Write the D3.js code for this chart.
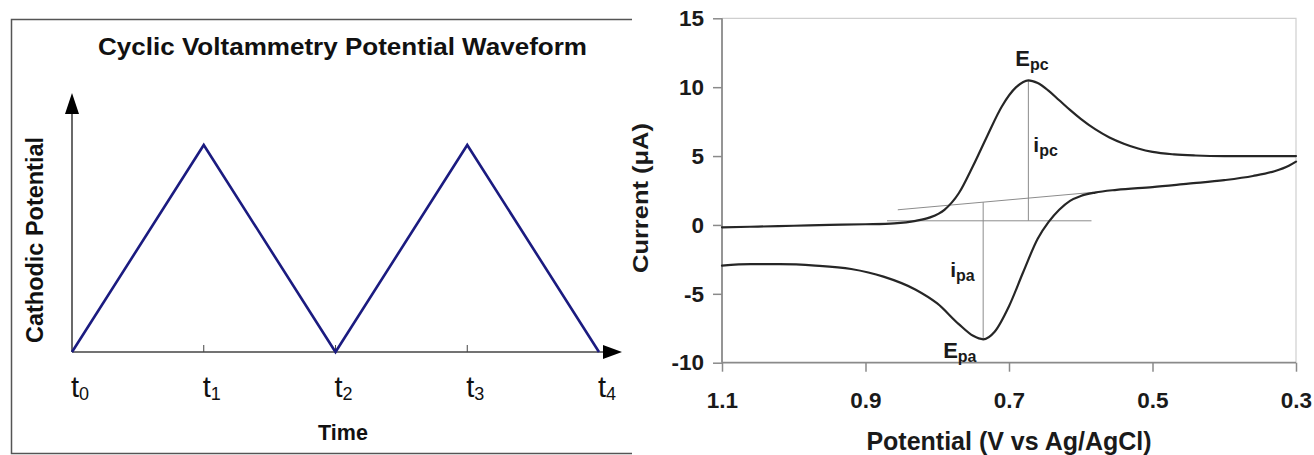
<!DOCTYPE html>
<html>
<head>
<meta charset="utf-8">
<script src="https://cdn.jsdelivr.net/npm/d3@7"></script>
<style>
  html, body { margin: 0; padding: 0; background: #fff; }
  svg { display: block; }
  text { font-family: "Liberation Sans", Arial, Helvetica, sans-serif; }
</style>
</head>
<body>
<svg id="chart" width="1314" height="455"></svg>
<script>
// ---- Potential waveform (triangle sweep) ----
const waveTimes = [0, 1, 2, 3, 4];
const wavePotential = [0, 1, 0, 1, 0];
const waveTickSubs = ["0", "1", "2", "3", "4"];

// ---- Cyclic voltammogram ----
// forward (cathodic) sweep, 1.1 V -> 0.3 V
const fwdPotential = [1.10, 1.05, 1.00, 0.95, 0.90, 0.86, 0.83, 0.81, 0.79, 0.77, 0.75, 0.73, 0.71, 0.69, 0.673, 0.66, 0.645, 0.63, 0.615, 0.60, 0.58, 0.56, 0.54, 0.52, 0.50, 0.47, 0.44, 0.40, 0.35, 0.30];
const fwdCurrent   = [-0.17, -0.12, -0.06, 0.0, 0.05, 0.12, 0.3, 0.55, 1.1, 2.3, 4.3, 6.5, 8.6, 10.0, 10.5, 10.3, 9.75, 9.05, 8.35, 7.7, 6.95, 6.35, 5.9, 5.55, 5.3, 5.12, 5.04, 5.0, 5.0, 5.0];
// reverse (anodic) sweep, 0.3 V -> 1.1 V
const revPotential = [0.30, 0.31, 0.33, 0.36, 0.40, 0.45, 0.50, 0.55, 0.58, 0.60, 0.615, 0.63, 0.645, 0.66, 0.68, 0.70, 0.72, 0.736, 0.75, 0.77, 0.80, 0.83, 0.875, 0.92, 0.97, 1.02, 1.06, 1.10];
const revCurrent   = [4.6, 4.3, 3.9, 3.55, 3.25, 3.0, 2.75, 2.55, 2.35, 2.1, 1.75, 1.1, 0.2, -1.0, -3.4, -5.9, -7.75, -8.3, -8.05, -7.2, -5.7, -4.7, -3.75, -3.2, -2.95, -2.85, -2.85, -2.95];

const potentialTicks = [1.1, 0.9, 0.7, 0.5, 0.3];
const currentTicks = [-10, -5, 0, 5, 10, 15];

// peaks: cathodic (Epc, ipc) and anodic (Epa, ipa)
const peakPotential = [0.673, 0.736];
const peakCurrent = [10.5, -8.3];
// extrapolated baselines used to measure the peak currents
const flatBaseE = [0.87, 0.585];
const flatBaseI = [0.3, 0.3];
const slopeBaseE = [0.855, 0.565];
const slopeBaseI = [1.1, 2.45];

const svg = d3.select("#chart");
svg.append("rect").attr("width", 1314).attr("height", 455).attr("fill", "#fff");

// ================= Left panel =================
const L = svg.append("g");

// panel frame (left, top, bottom edges)
L.append("path")
  .attr("d", "M632,19.5 H11.5 V453.5 H632")
  .attr("fill", "none").attr("stroke", "#555").attr("stroke-width", 1.5);

const tx = d3.scaleLinear().domain([0, 4]).range([72, 599]);
const py = d3.scaleLinear().domain([0, 1]).range([352, 145]);

L.append("text")
  .attr("x", 98).attr("y", 55)
  .attr("font-size", 24.5).attr("font-weight", "bold").attr("fill", "#111")
  .attr("textLength", 489).attr("lengthAdjust", "spacingAndGlyphs")
  .text("Cyclic Voltammetry Potential Waveform");

// axes with arrowheads
const axisX0 = tx(0), axisY0 = py(0);
L.append("line").attr("x1", axisX0).attr("y1", axisY0).attr("x2", axisX0).attr("y2", 108)
  .attr("stroke", "#444").attr("stroke-width", 1.6);
L.append("path").attr("d", `M${axisX0},93 L${axisX0 - 7},114 L${axisX0 + 7},114 Z`).attr("fill", "#000");
L.append("line").attr("x1", axisX0).attr("y1", axisY0).attr("x2", 608).attr("y2", axisY0)
  .attr("stroke", "#444").attr("stroke-width", 1.6);
L.append("path").attr("d", `M622,${axisY0} L603,${axisY0 - 7} L603,${axisY0 + 7} Z`).attr("fill", "#000");

// small tick marks
L.selectAll("line.wtick").data(waveTimes.slice(1, 4)).join("line")
  .attr("class", "wtick")
  .attr("x1", d => tx(d)).attr("x2", d => tx(d))
  .attr("y1", axisY0).attr("y2", axisY0 - 7)
  .attr("stroke", "#444").attr("stroke-width", 1);

// triangle waveform
L.append("path")
  .datum(waveTimes.map((t, i) => [t, wavePotential[i]]))
  .attr("fill", "none").attr("stroke", "#1b1b80").attr("stroke-width", 2.6)
  .attr("stroke-linejoin", "miter")
  .attr("d", d3.line().x(d => tx(d[0])).y(d => py(d[1])));

// t0..t4 labels
const tl = L.selectAll("text.tlab").data(waveTimes).join("text")
  .attr("class", "tlab")
  .attr("x", d => tx(d) - 1).attr("y", 397)
  .attr("fill", "#111");
tl.append("tspan").attr("font-size", 29).text("t");
tl.append("tspan").attr("font-size", 18).attr("dy", 3).text((d, i) => waveTickSubs[i]);

L.append("text").attr("x", 343).attr("y", 440).attr("text-anchor", "middle")
  .attr("font-size", 21.5).attr("font-weight", "bold").attr("fill", "#111").text("Time");

L.append("text")
  .attr("transform", "translate(43,240) rotate(-90)")
  .attr("text-anchor", "middle")
  .attr("font-size", 23).attr("font-weight", "bold").attr("fill", "#111")
  .attr("textLength", 206).attr("lengthAdjust", "spacingAndGlyphs")
  .text("Cathodic Potential");

// ================= Right panel =================
const R = svg.append("g");
const ex = d3.scaleLinear().domain([1.1, 0.3]).range([722, 1296]);
const iy = d3.scaleLinear().domain([-10, 15]).range([362.7, 18.3]);

// light plot frame
R.append("path")
  .attr("d", `M${ex(1.1)},${iy(15)} H${ex(0.3)} V${iy(-10)}`)
  .attr("fill", "none").attr("stroke", "#cfcfcf").attr("stroke-width", 1.2);

const yAxis = R.append("g").attr("transform", `translate(${ex(1.1)},0)`)
  .call(d3.axisLeft(iy).tickValues(currentTicks).tickSize(9).tickPadding(9).tickFormat(d => String(d)));
const xAxis = R.append("g").attr("transform", `translate(0,${iy(-10)})`)
  .call(d3.axisBottom(ex).tickValues(potentialTicks).tickSize(9).tickPadding(20).tickFormat(d3.format(".1f")));
[yAxis, xAxis].forEach(a => {
  a.select(".domain").attr("stroke", "#8a8a8a").attr("stroke-width", 1.8);
  a.selectAll(".tick line").attr("stroke", "#8a8a8a").attr("stroke-width", 1.5);
  a.selectAll(".tick text").attr("font-size", 22.5).attr("font-weight", "bold").attr("fill", "#1a1a1a")
    .attr("font-family", "'Liberation Sans', Arial, sans-serif");
});
xAxis.select(".domain").attr("d", `M${ex(1.1)},0H${ex(0.3)}`);
yAxis.select(".domain").attr("d", `M0,${iy(-10)}V${iy(15)}`);

R.append("text")
  .attr("x", ex(0.7)).attr("y", 450).attr("text-anchor", "middle")
  .attr("font-size", 25).attr("font-weight", "bold").attr("fill", "#1a1a1a")
  .text("Potential (V vs Ag/AgCl)");
R.append("text")
  .attr("transform", "translate(648,198) rotate(-90)")
  .attr("text-anchor", "middle")
  .attr("font-size", 22).attr("font-weight", "bold").attr("fill", "#1a1a1a")
  .attr("textLength", 150).attr("lengthAdjust", "spacingAndGlyphs")
  .text("Current (μA)");

// baselines and peak-height markers
function thinLine(x1, y1, x2, y2) {
  R.append("line").attr("x1", x1).attr("y1", y1).attr("x2", x2).attr("y2", y2)
    .attr("stroke", "#8c8c8c").attr("stroke-width", 1);
}
thinLine(ex(flatBaseE[0]), iy(flatBaseI[0]), ex(flatBaseE[1]), iy(flatBaseI[1]));
thinLine(ex(slopeBaseE[0]), iy(slopeBaseI[0]), ex(slopeBaseE[1]), iy(slopeBaseI[1]));
const slopeAt = e => slopeBaseI[0] + (e - slopeBaseE[0]) * (slopeBaseI[1] - slopeBaseI[0]) / (slopeBaseE[1] - slopeBaseE[0]);
thinLine(ex(peakPotential[0]), iy(peakCurrent[0]), ex(peakPotential[0]), iy(flatBaseI[0]));
thinLine(ex(peakPotential[1]), iy(slopeAt(peakPotential[1])), ex(peakPotential[1]), iy(peakCurrent[1]));

// voltammogram: each sweep drawn left-to-right on screen as a monotone curve
const cvLine = d3.line().x(d => ex(d[0])).y(d => iy(d[1])).curve(d3.curveMonotoneX);
const fwdPoints = fwdPotential.map((e, i) => [e, fwdCurrent[i]]);
const revPoints = revPotential.map((e, i) => [e, revCurrent[i]]).reverse();
[fwdPoints, revPoints].forEach(pts => {
  R.append("path").datum(pts)
    .attr("fill", "none").attr("stroke", "#262626").attr("stroke-width", 2.2)
    .attr("stroke-linejoin", "round").attr("stroke-linecap", "round")
    .attr("d", cvLine);
});

// peak labels
function peakLabel(x, y, main, sub, size) {
  const t = R.append("text").attr("x", x).attr("y", y).attr("font-weight", "bold").attr("fill", "#1a1a1a");
  t.append("tspan").attr("font-size", size).text(main);
  t.append("tspan").attr("font-size", 16).attr("dy", 4).text(sub);
}
peakLabel(ex(peakPotential[0]) - 13, iy(peakCurrent[0]) - 14, "E", "pc", 22);
peakLabel(ex(peakPotential[0]) + 5, iy(peakCurrent[0]) + 72, "i", "pc", 21);
peakLabel(ex(peakPotential[1]) - 33, iy(peakCurrent[1]) - 62, "i", "pa", 21);
peakLabel(ex(peakPotential[1]) - 40, iy(peakCurrent[1]) + 19, "E", "pa", 22);
</script>
</body>
</html>
